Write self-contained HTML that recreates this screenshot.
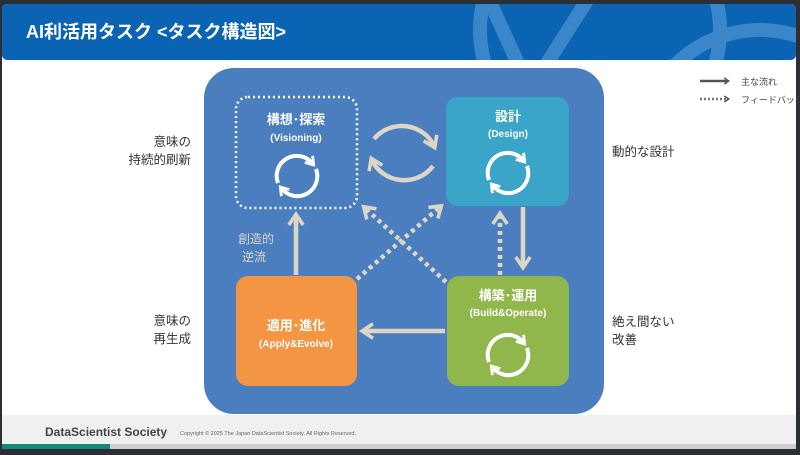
<!DOCTYPE html>
<html><head><meta charset="utf-8"><style>
html,body{margin:0;padding:0;background:#2b2e33;}
svg{display:block}
text{font-family:"Liberation Sans","Noto Sans CJK JP",sans-serif}
</style></head><body>
<svg width="800" height="455" viewBox="0 0 800 455" xmlns="http://www.w3.org/2000/svg">
<defs>
<clipPath id="hc"><rect x="2" y="4" width="794" height="56" rx="5"/></clipPath>
<marker id="ah" viewBox="0 0 10 10" refX="6" refY="5" markerWidth="4" markerHeight="4" orient="auto"><path d="M1,1 L7,5 L1,9" fill="none" stroke="#dcd6c6" stroke-width="2"/></marker>
<marker id="wh" viewBox="0 0 10 10" refX="5" refY="5" markerWidth="3.2" markerHeight="3.2" orient="auto"><path d="M1,1 L7,5 L1,9" fill="none" stroke="#fff" stroke-width="2.2"/></marker>
<marker id="lg" viewBox="0 0 10 10" refX="6" refY="5" markerWidth="3" markerHeight="3" orient="auto"><path d="M1,1 L7,5 L1,9" fill="none" stroke="#555" stroke-width="2"/></marker>
<g id="cyc" fill="none" stroke="#fff" stroke-width="4">
<path d="M-19,8 A20,20 0 0 1 15,-12" marker-end="url(#wh)"/>
<path d="M19,-6 A20,20 0 0 1 -15,14" marker-end="url(#wh)"/>
</g>
</defs>
<rect x="2" y="4" width="794" height="445" rx="5" fill="#fff"/>
<g clip-path="url(#hc)">
<rect x="2" y="4" width="794" height="60" fill="#0a64b3"/>
<circle cx="600" cy="30" r="120" fill="none" stroke="#3a86c8" stroke-width="14"/>
<path d="M480,-20 L530,90 L600,-20" fill="none" stroke="#3a86c8" stroke-width="14"/>
<circle cx="760" cy="150" r="120" fill="none" stroke="#3a86c8" stroke-width="14"/>
</g>
<text x="26" y="38" font-size="18" font-weight="bold" fill="#fff">AI利活用タスク &lt;タスク構造図&gt;</text>
<rect x="2" y="415" width="794" height="34" fill="#f0f0f0"/>
<rect x="2" y="444" width="794" height="5" fill="#cfcfcf"/>
<rect x="2" y="444" width="108" height="5" fill="#12897a"/>
<text x="45" y="436" font-size="12" font-weight="bold" fill="#444">DataScientist Society</text>
<text x="180" y="435" font-size="5.5" fill="#666">Copyright © 2025 The Japan DataScientist Society. All Rights Reserved.</text>

<rect x="204" y="68" width="400" height="346" rx="30" fill="#4a7ebf"/>
<rect x="236" y="97" width="121" height="111" rx="12" fill="none" stroke="#fff" stroke-width="2.5" stroke-dasharray="2 3"/>
<rect x="446" y="97" width="123" height="109" rx="12" fill="#3aa4c9"/>
<rect x="236" y="276" width="121" height="110" rx="12" fill="#f39543"/>
<rect x="447" y="276" width="122" height="110" rx="12" fill="#8fb74b"/>

<g fill="#fff" font-weight="bold" text-anchor="middle">
<text x="296" y="124" font-size="13">構想･探索</text>
<text x="296" y="141" font-size="10">(Visioning)</text>
<text x="508" y="121" font-size="13">設計</text>
<text x="508" y="137" font-size="10">(Design)</text>
<text x="296" y="330" font-size="13">適用･進化</text>
<text x="296" y="347" font-size="10">(Apply&amp;Evolve)</text>
<text x="508" y="300" font-size="13">構築･運用</text>
<text x="508" y="316" font-size="10">(Build&amp;Operate)</text>
</g>
<use href="#cyc" x="297" y="175"/>
<use href="#cyc" x="508" y="172"/>
<use href="#cyc" x="508" y="354"/>

<g fill="none" stroke="#dcd6c6" stroke-width="4.5">
<path d="M374,139 A35,33 0 0 1 434,146" marker-end="url(#ah)"/>
<path d="M433,166 A35,33 0 0 1 372,160" marker-end="url(#ah)"/>
<line x1="523" y1="207" x2="523" y2="266" marker-end="url(#ah)"/>
<line x1="445" y1="331" x2="364" y2="331" marker-end="url(#ah)"/>
<line x1="296" y1="275" x2="296" y2="216" marker-end="url(#ah)"/>
<g stroke-dasharray="4 4">
<line x1="500" y1="275" x2="500" y2="215" marker-end="url(#ah)"/>
<line x1="357" y1="279" x2="440" y2="207" marker-end="url(#ah)"/>
<line x1="446" y1="282" x2="365" y2="208" marker-end="url(#ah)"/>
</g>
</g>
<g fill="#dcd6c6" font-size="12" text-anchor="middle">
<text x="256" y="243">創造的</text>
<text x="254" y="261">逆流</text>
</g>
<g fill="#333" font-size="12.5">
<text x="191" y="146" text-anchor="end">意味の</text>
<text x="191" y="164" text-anchor="end">持続的刷新</text>
<text x="191" y="325" text-anchor="end">意味の</text>
<text x="191" y="343" text-anchor="end">再生成</text>
<text x="612" y="156">動的な設計</text>
<text x="612" y="326">絶え間ない</text>
<text x="612" y="344">改善</text>
</g>
<line x1="700" y1="81" x2="728" y2="81" stroke="#555" stroke-width="2.5" marker-end="url(#lg)"/>
<line x1="700" y1="99" x2="728" y2="99" stroke="#777" stroke-width="2.5" stroke-dasharray="2 2" marker-end="url(#lg)"/>
<g fill="#444" font-size="9">
<text x="741" y="85">主な流れ</text>
<text x="741" y="103">フィードバック</text>
</g>
</svg>
</body></html>
